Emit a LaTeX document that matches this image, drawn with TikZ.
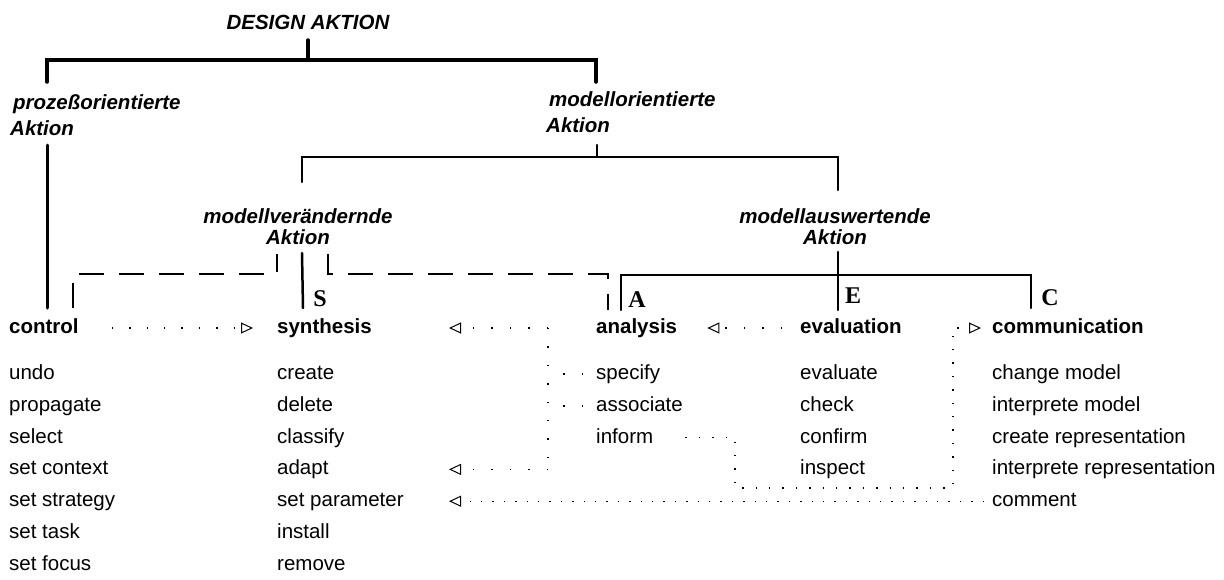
\documentclass[tikz,border=0pt]{standalone}
\usepackage{fontspec}
\setmainfont{Liberation Sans}
\newfontfamily\serifLS{Liberation Serif}
\usetikzlibrary{arrows.meta}
\begin{document}
\begin{tikzpicture}[x=1pt,y=-1pt,
  hdr/.style={font=\fontsize{20.5}{24}\selectfont\bfseries, anchor=west, inner sep=0pt, text height=15pt, text depth=4pt},
  itm/.style={font=\fontsize{20.5}{24}\selectfont, anchor=west, inner sep=0pt, text height=15pt, text depth=4pt},
  cat/.style={font=\fontsize{20.5}{26}\selectfont\bfseries\itshape, inner sep=0pt},
  catlow/.style={font=\fontsize{20.5}{21}\selectfont\bfseries\itshape, inner sep=0pt, align=center},
  letter/.style={font=\fontsize{24}{24}\selectfont\serifLS\bfseries, inner sep=0pt},
  br/.style={line width=#1, line cap=round, line join=miter},
  dsh/.style={line width=1.3pt, dash pattern=on 25pt off 15pt},
  dotl/.style={line width=1.4pt, dash pattern=on 1.4pt off #1},
  tip/.style={-{Triangle[open,length=12pt,width=11pt,line width=1pt]}},
]
\useasboundingbox (0,0) rectangle (1224,579);

% category labels
\node[cat] (design) at (308,22) {DESIGN AKTION};
\node[cat, align=left, anchor=west] (proz) at (10,115) {\hspace*{3pt}prozeßorientierte\\Aktion};
\node[cat, align=left, anchor=west] (modo) at (546,112.5) {\hspace*{3pt}modellorientierte\\Aktion};
\node[catlow] (modv) at (298,227) {modellverändernde\\Aktion};
\node[catlow] (moda) at (835,227) {modellauswertende\\Aktion};

% column headers
\node[hdr] (control) at (9,328) {control};
\node[hdr] (synthesis) at (277,328) {synthesis};
\node[hdr] (analysis) at (596,328) {analysis};
\node[hdr] (evaluation) at (800,328) {evaluation};
\node[hdr] (communication) at (992,328) {communication};

% letters
\node[letter] (S) at (320,299) {S};
\node[letter] (A) at (637,300) {A};
\node[letter] (E) at (853,296) {E};
\node[letter] (C) at (1050,298) {C};

% control items
\node[itm] (undo) at (9,374) {undo};
\node[itm] (propagate) at (9,405.8) {propagate};
\node[itm] (select) at (9,437.6) {select};
\node[itm] (setcontext) at (9,469.4) {set context};
\node[itm] (setstrategy) at (9,501.2) {set strategy};
\node[itm] (settask) at (9,533) {set task};
\node[itm] (setfocus) at (9,564.8) {set focus};
% synthesis items
\node[itm] (create) at (277,374) {create};
\node[itm] (delete) at (277,405.8) {delete};
\node[itm] (classify) at (277,437.6) {classify};
\node[itm] (adapt) at (277,469.4) {adapt};
\node[itm] (setparameter) at (277,501.2) {set parameter};
\node[itm] (install) at (277,533) {install};
\node[itm] (remove) at (277,564.8) {remove};
% analysis items
\node[itm] (specify) at (596,374) {specify};
\node[itm] (associate) at (596,405.8) {associate};
\node[itm] (inform) at (596,437.6) {inform};
% evaluation items
\node[itm] (evaluate) at (800,374) {evaluate};
\node[itm] (check) at (800,405.8) {check};
\node[itm] (confirm) at (800,437.6) {confirm};
\node[itm] (inspect) at (800,469.4) {inspect};
% communication items
\node[itm] (changemodel) at (992,374) {change model};
\node[itm] (interpmodel) at (992,405.8) {interprete model};
\node[itm] (createrep) at (992,437.6) {create representation};
\node[itm] (interprep) at (992,469.4) {interprete representation};
\node[itm] (comment) at (992,501.2) {comment};

% tree: top bracket
\coordinate (j0) at (308,40);
\coordinate (j0h) at (308,60);
\coordinate (jL) at (47,82);
\coordinate (jR) at (596,82);
\draw[br=3.5pt] (j0) -- (j0h);
\draw[br=3.5pt] (jL) -- (jL |- j0h) -- (jR |- j0h) -- (jR);
% process-oriented line down to control
\coordinate (pL1) at (47,145);
\coordinate (pL2) at (47,308);
\draw[br=3pt] (pL1) -- (pL2);
% model-oriented bracket
\coordinate (m0) at (597,145);
\coordinate (m0h) at (597,157);
\coordinate (mL) at (302,182);
\coordinate (mR) at (838,190);
\draw[br=2.3pt] (m0) -- (m0h);
\draw[br=2.3pt] (mL) -- (mL |- m0h) -- (mR |- m0h) -- (mR);
% synthesis line
\coordinate (s1) at (302,253);
\coordinate (s2) at (303,308);
\draw[br=2.5pt] (s1) -- (s2);
% evaluating bracket
\coordinate (e0) at (838,252);
\coordinate (eh) at (838,275);
\coordinate (e1) at (838,310);
\coordinate (aL) at (621,310);
\coordinate (cR) at (1031,308);
\draw[br=2.3pt] (e0) -- (e1);
\draw[br=2.3pt] (aL) -- (aL |- eh) -- (cR |- eh) -- (cR);

% dashed links
\coordinate (dl0) at (73,308);
\coordinate (dl1) at (73,274);
\coordinate (dl2) at (277,274);
\coordinate (dl3) at (277,254);
\draw[dsh] (dl0) -- (dl1) -- (dl2) -- (dl3);
\coordinate (dr0) at (328,254);
\coordinate (dr1) at (328,274);
\coordinate (dr2) at (608,274);
\coordinate (dr3) at (608,310);
\draw[dsh] (dr0) -- (dr1) -- (dr2) -- (dr3);

% dotted arrows
\coordinate (tipL) at (449,0);
\draw[dotl=16pt, tip] ([xshift=33pt]control.east) -- ([xshift=-24pt]synthesis.west);

\coordinate (vTop) at (548,328);
\coordinate (vBot) at (548,469.4);
\draw[dotl=17pt] (vTop) -- (vBot);
\draw[dotl=17pt, tip] (vTop) -- (synthesis -| tipL);
\draw[dotl=17pt, tip] (vBot) -- (adapt -| tipL);
\draw[dotl=17pt] ([xshift=-13pt]specify.west) -- (specify -| vTop);
\draw[dotl=17pt] ([xshift=-13pt]associate.west) -- (associate -| vTop);

\draw[dotl=17pt, tip] ([xshift=-18pt]evaluation.west) -- ([xshift=30pt]analysis.east);

\coordinate (i1) at (735,0);
\coordinate (i2) at (0,488);
\coordinate (i3) at (953,0);
\draw[dotl=12pt, tip] ([xshift=32pt]inform.east) -- (inform -| i1) -- (i1 |- i2) -- (i3 |- i2) -- (i3 |- communication) -- ([xshift=-11pt]communication.west);

\draw[dotl=10pt, tip] ([xshift=-8pt]comment.west) -- (setparameter -| tipL);
\end{tikzpicture}
\end{document}
